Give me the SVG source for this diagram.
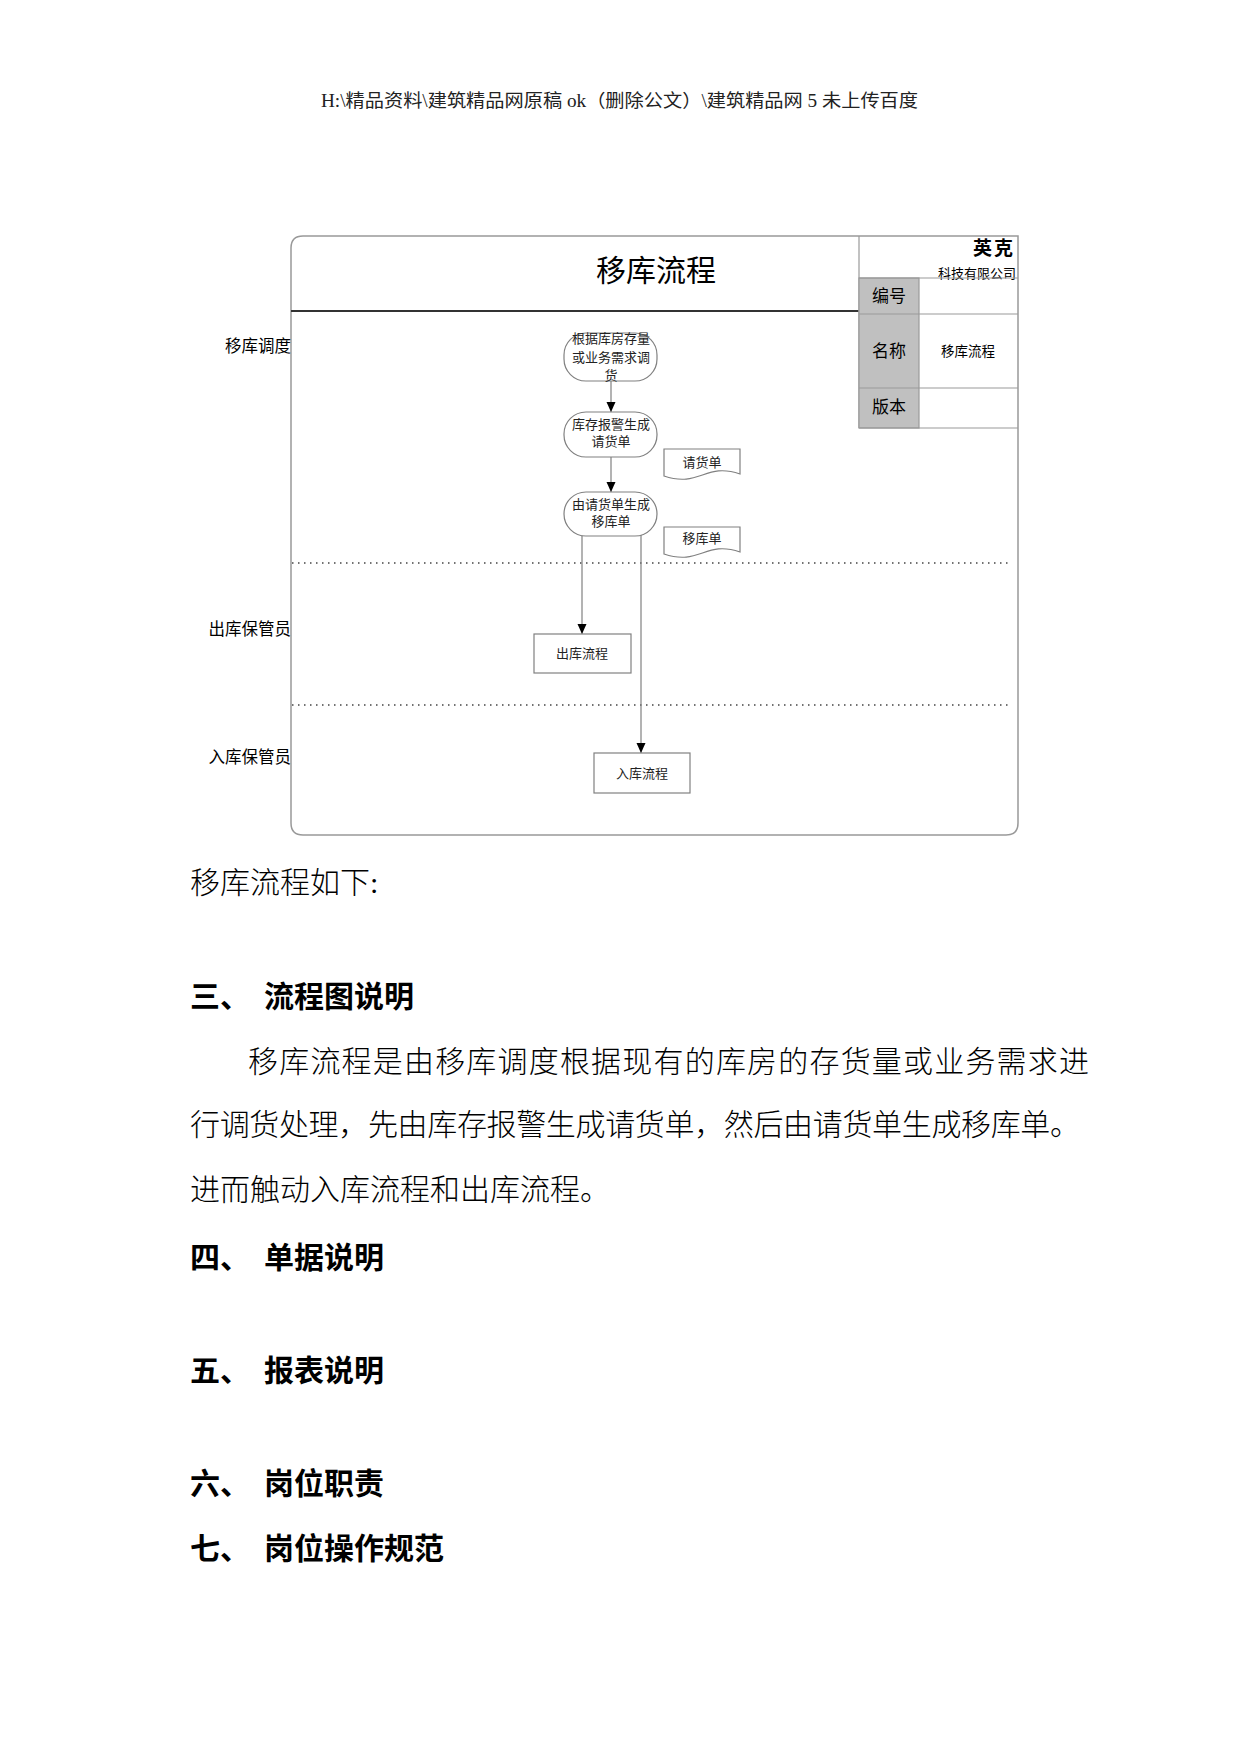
<svg xmlns="http://www.w3.org/2000/svg" width="1241" height="1754" viewBox="0 0 1241 1754">
<style>
.sans{font-family:"Noto Sans CJK SC","Liberation Sans",sans-serif;fill:#000}
.ser{font-family:"Liberation Serif","Noto Sans CJK SC",serif;fill:#222}
.body{font-family:"Liberation Serif","Noto Sans CJK SC",serif;font-size:30px;fill:#000;font-weight:300}
.head{font-family:"Noto Sans CJK SC",sans-serif;font-size:30px;font-weight:bold;fill:#000}
.shape{fill:#fff;stroke:#808080;stroke-width:1.2}
.cell{fill:none;stroke:#999;stroke-width:1.2}
.grey{fill:#c0c0c0;stroke:#999;stroke-width:1.2}
.dot{stroke:#444;stroke-width:1.5;stroke-dasharray:1.5 4.5;fill:none}
.conn{stroke:#808080;stroke-width:1.2;fill:none;marker-end:url(#arr)}
.lane{font-size:16.5px;text-anchor:end}
.ntxt{font-size:13px;text-anchor:middle}
</style>
<defs>
<marker id="arr" viewBox="0 0 10 10" refX="10" refY="5" markerWidth="10" markerHeight="10" markerUnits="userSpaceOnUse" orient="auto">
<path d="M0,0.5 L10,5 L0,9.5 z" fill="#000"/>
</marker>
</defs>
<rect width="1241" height="1754" fill="#fff"/>
<text class="ser" x="321" y="107" font-size="18" textLength="597" lengthAdjust="spacingAndGlyphs">H:\精品资料\建筑精品网原稿 ok（删除公文）\建筑精品网 5 未上传百度</text>

<g id="frame">
<path d="M303,236 H1018 V823 Q1018,835 1006,835 H303 Q291,835 291,823 V248 Q291,236 303,236 Z" fill="none" stroke="#999" stroke-width="1.5"/>
<line x1="291" y1="311" x2="859" y2="311" stroke="#333" stroke-width="2"/>
<text class="sans" x="656" y="281" font-size="30" text-anchor="middle">移库流程</text>
</g>

<g id="table">
<line class="cell" x1="859" y1="236" x2="859" y2="428"/>
<text class="sans" x="1015" y="255" font-size="19" font-weight="bold" text-anchor="end" letter-spacing="2">英克</text>
<text class="sans" x="1016" y="278" font-size="13" text-anchor="end">科技有限公司</text>
<rect class="grey" x="859" y="278" width="60" height="150"/>
<line class="cell" x1="859" y1="278" x2="1018" y2="278"/>
<line class="cell" x1="859" y1="314" x2="1018" y2="314"/>
<line class="cell" x1="859" y1="388" x2="1018" y2="388"/>
<line class="cell" x1="859" y1="428" x2="1018" y2="428"/>
<text class="sans" x="889" y="302" font-size="17" text-anchor="middle">编号</text>
<text class="sans" x="889" y="357" font-size="17" text-anchor="middle">名称</text>
<text class="sans" x="889" y="413" font-size="17" text-anchor="middle">版本</text>
<text class="sans" x="968" y="356" font-size="13.5" text-anchor="middle">移库流程</text>
</g>

<g id="lanes">
<line class="dot" x1="292" y1="563" x2="1010" y2="563"/>
<line class="dot" x1="292" y1="705" x2="1010" y2="705"/>
<text class="sans lane" x="291" y="352">移库调度</text>
<text class="sans lane" x="291" y="635">出库保管员</text>
<text class="sans lane" x="291" y="763">入库保管员</text>
</g>

<g id="connectors">
<line class="conn" x1="611" y1="381" x2="611" y2="412"/>
<line class="conn" x1="611" y1="457" x2="611" y2="492"/>
<line class="conn" x1="582" y1="535" x2="582" y2="634"/>
<line class="conn" x1="641" y1="535" x2="641" y2="753"/>
</g>

<g id="node-gen">
<rect class="shape" x="564" y="333" width="93" height="48" rx="22" ry="22"/>
<text class="ser ntxt" x="611" y="343">根据库房存量</text>
<text class="ser ntxt" x="611" y="362">或业务需求调</text>
<text class="ser ntxt" x="611" y="380">货</text>
</g>
<g id="node-alarm">
<rect class="shape" x="564" y="412" width="93" height="45" rx="22" ry="22"/>
<text class="ser ntxt" x="611" y="429">库存报警生成</text>
<text class="ser ntxt" x="611" y="446">请货单</text>
</g>
<g id="node-move">
<rect class="shape" x="564" y="492" width="93" height="44" rx="22" ry="22"/>
<text class="ser ntxt" x="611" y="509">由请货单生成</text>
<text class="ser ntxt" x="611" y="526">移库单</text>
</g>
<g id="doc-request">
<path class="shape" d="M664,449 H740 V474 C705,462 700,488 664,476 Z"/>
<text class="ser ntxt" x="702" y="467">请货单</text>
</g>
<g id="doc-move">
<path class="shape" d="M664,527 H740 V552 C705,540 700,566 664,554 Z"/>
<text class="ser ntxt" x="702" y="543">移库单</text>
</g>
<g id="node-out">
<rect class="shape" x="534" y="634" width="97" height="39"/>
<text class="ser ntxt" x="582" y="658">出库流程</text>
</g>
<g id="node-in">
<rect class="shape" x="594" y="753" width="96" height="40"/>
<text class="ser ntxt" x="642" y="778">入库流程</text>
</g>

<g id="text-body">
<text class="body" x="190" y="893">移库流程如下:</text>
<text class="head" x="190" y="1007">三、<tspan x="264">流程图说明</tspan></text>
<text class="body" x="248" y="1072" textLength="841" lengthAdjust="spacing">移库流程是由移库调度根据现有的库房的存货量或业务需求进</text>
<text class="body" x="190" y="1135" textLength="890" lengthAdjust="spacing">行调货处理，先由库存报警生成请货单，然后由请货单生成移库单。</text>
<text class="body" x="190" y="1200">进而触动入库流程和出库流程。</text>
<text class="head" x="190" y="1268">四、<tspan x="264">单据说明</tspan></text>
<text class="head" x="190" y="1381">五、<tspan x="264">报表说明</tspan></text>
<text class="head" x="190" y="1494">六、<tspan x="264">岗位职责</tspan></text>
<text class="head" x="190" y="1559">七、<tspan x="264">岗位操作规范</tspan></text>
</g>
</svg>
